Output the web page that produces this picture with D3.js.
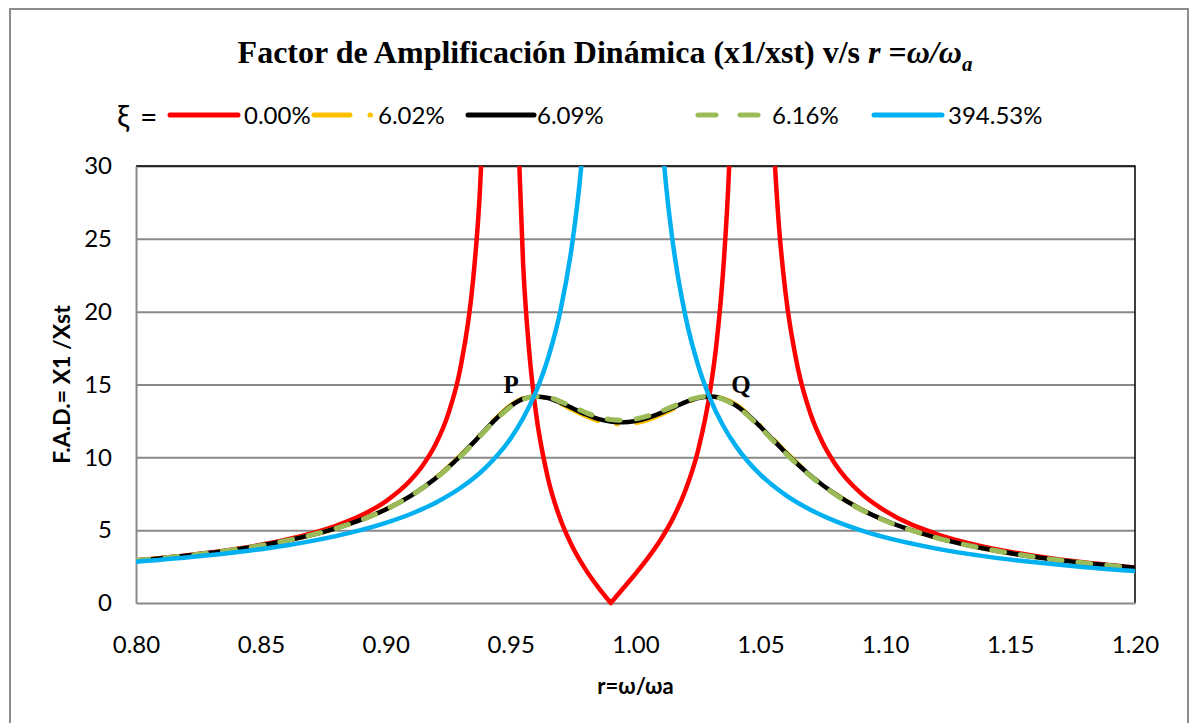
<!DOCTYPE html>
<html>
<head>
<meta charset="utf-8">
<script src="https://cdn.jsdelivr.net/npm/d3@7"></script>
<style>
  body { margin: 0; background: #fff; }
  svg { display: block; }
</style>
</head>
<body>
<svg id="chart" width="1190" height="723"></svg>
<script>
// r values shared by the three near-optimal damping curves
const rDamped = [0.80, 0.82, 0.84, 0.86, 0.88, 0.89, 0.90, 0.91, 0.92, 0.93,
  0.935, 0.94, 0.945, 0.95, 0.955, 0.96, 0.965, 0.97, 0.975, 0.98,
  0.985, 0.99, 0.995, 1.00, 1.005, 1.01, 1.015, 1.02, 1.025, 1.03,
  1.035, 1.04, 1.045, 1.05, 1.055, 1.06, 1.07, 1.08, 1.09, 1.10,
  1.12, 1.14, 1.16, 1.18, 1.20];
const fad602 = [2.92, 3.25, 3.68, 4.27, 5.12, 5.70, 6.43, 7.37, 8.59, 10.15,
  11.03, 11.96, 12.83, 13.57, 14.04, 14.18, 14.03, 13.67, 13.25, 12.84,
  12.50, 12.32, 12.26, 12.35, 12.58, 12.91, 13.32, 13.72, 14.04, 14.18,
  14.05, 13.65, 12.98, 12.16, 11.28, 10.39, 8.79, 7.49, 6.47, 5.67,
  4.51, 3.72, 3.16, 2.74, 2.42];
const fad609 = [2.92, 3.25, 3.68, 4.27, 5.12, 5.70, 6.42, 7.36, 8.57, 10.11,
  10.99, 11.91, 12.78, 13.52, 14.01, 14.18, 14.07, 13.75, 13.35, 12.96,
  12.64, 12.46, 12.40, 12.49, 12.71, 13.03, 13.41, 13.79, 14.07, 14.18,
  14.02, 13.59, 12.92, 12.10, 11.22, 10.34, 8.76, 7.47, 6.46, 5.66,
  4.50, 3.72, 3.16, 2.74, 2.42];
const fad616 = [2.92, 3.25, 3.68, 4.27, 5.12, 5.69, 6.42, 7.35, 8.55, 10.07,
  10.95, 11.86, 12.73, 13.47, 13.98, 14.18, 14.11, 13.83, 13.45, 13.08,
  12.77, 12.60, 12.54, 12.63, 12.84, 13.14, 13.50, 13.86, 14.10, 14.18,
  13.99, 13.54, 12.86, 12.04, 11.16, 10.29, 8.72, 7.45, 6.44, 5.65,
  4.50, 3.72, 3.16, 2.74, 2.42];

// undamped absorber (xi = 0): null = break at the resonances / cusp
const rUndamped = [0.80, 0.82, 0.84, 0.86, 0.88, 0.89, 0.90, 0.91, 0.915, 0.92,
  0.925, 0.93, 0.935, 0.9375, 0.94, 0.9465,
  0.9525, 0.955, 0.9575, 0.96, 0.965, 0.97, 0.975, 0.98, 0.985, 0.9901, 0.9901,
  0.9901, 0.995, 1.00, 1.005, 1.01, 1.015, 1.02, 1.025, 1.03, 1.0325, 1.035, 1.0375, 1.04, 1.046,
  1.055, 1.0575, 1.06, 1.065, 1.07, 1.075, 1.08, 1.09, 1.10, 1.12, 1.14, 1.16, 1.18, 1.20];
const fad000 = [2.93, 3.27, 3.71, 4.34, 5.30, 6.00, 6.98, 8.44, 9.49, 10.91,
  12.97, 16.23, 22.23, 27.69, 37.3, null,
  34.45, 23.27, 17.14, 13.24, 8.53, 5.71, 3.78, 2.31, 1.09, 0, null,
  0, 0.99, 2.01, 3.10, 4.33, 5.81, 7.74, 10.44, 14.68, 17.92, 22.59, 29.95, 43.4, null,
  32.44, 25.73, 21.40, 16.13, 13.03, 10.99, 9.53, 7.57, 6.32, 4.77, 3.85, 3.23, 2.78, 2.44];

// very large damping (xi = 394.53%)
const rRigid = [0.80, 0.82, 0.84, 0.86, 0.88, 0.89, 0.90, 0.91, 0.92, 0.93,
  0.94, 0.95, 0.955, 0.96, 0.965, 0.97, 0.975, 0.9775, 0.98, 0.995,
  1.01, 1.0125, 1.015, 1.02, 1.025, 1.03, 1.035, 1.04, 1.045, 1.05,
  1.06, 1.07, 1.08, 1.09, 1.10, 1.12, 1.14, 1.16, 1.18, 1.20];
const fad39453 = [2.83, 3.12, 3.48, 3.95, 4.59, 5.00, 5.50, 6.11, 6.89, 7.91,
  9.30, 11.30, 12.68, 14.45, 16.82, 20.12, 25.08, 28.62, 33.3, null,
  33.0, 28.24, 24.67, 19.68, 16.36, 13.98, 12.20, 10.82, 9.71, 8.81,
  7.42, 6.40, 5.62, 5.00, 4.50, 3.75, 3.20, 2.79, 2.46, 2.20];

const seriesLabels = ["0.00%", "6.02%", "6.09%", "6.16%", "394.53%"];
const xTicks = [0.80, 0.85, 0.90, 0.95, 1.00, 1.05, 1.10, 1.15, 1.20];
const yTicks = [0, 5, 10, 15, 20, 25, 30];
const pointLabels = ["P", "Q"];
const pointR = [0.9502, 1.0422];
const pointFad = [14.4, 14.4];

const zip = (xs, ys) => xs.map((r, i) => [r, ys[i]]);

const series = [
  { label: seriesLabels[0], data: zip(rUndamped, fad000), color: "#FF0000", width: 4.5, dash: null },
  { label: seriesLabels[1], data: zip(rDamped, fad602), color: "#FFC000", width: 4.5, dash: "40,19,1,19" },
  { label: seriesLabels[2], data: zip(rDamped, fad609), color: "#000000", width: 4.5, dash: null },
  { label: seriesLabels[3], data: zip(rDamped, fad616), color: "#9BBB59", width: 5, dash: "13,16" },
  { label: seriesLabels[4], data: zip(rRigid, fad39453), color: "#00B0F0", width: 4.5, dash: null }
];

const svg = d3.select("#chart");
const plot = { left: 136, right: 1135, top: 166, bottom: 603 };
const sans = "Lato, 'Open Sans', sans-serif";
const serif = "'Liberation Serif', 'Times New Roman', serif";

const x = d3.scaleLinear().domain([0.80, 1.20]).range([plot.left, plot.right]);
const y = d3.scaleLinear().domain([0, 30]).range([plot.bottom, plot.top]);

// outer chart border
svg.append("rect")
    .attr("x", 10).attr("y", 9)
    .attr("width", 1178).attr("height", 730)
    .attr("fill", "none")
    .attr("stroke", "#8c8c8c")
    .attr("stroke-width", 2);

// title
const title = svg.append("text")
    .attr("x", 605).attr("y", 63)
    .attr("text-anchor", "middle")
    .style("font-family", serif)
    .style("font-weight", "bold")
    .style("font-size", "32px");
title.append("tspan").text("Factor de Amplificación Dinámica (x1/xst) v/s ");
title.append("tspan").style("font-style", "italic").text("r");
title.append("tspan").text(" =");
title.append("tspan").style("font-style", "italic").text("ω/ω");
title.append("tspan").style("font-style", "italic").style("font-size", "21px")
    .attr("dy", 8).text("a");

// gridlines
svg.append("g")
    .attr("transform", `translate(${plot.left},0)`)
    .call(d3.axisLeft(y).tickValues(yTicks.slice(1)).tickSize(-(plot.right - plot.left)).tickFormat(""))
    .call(g => g.select(".domain").remove())
    .call(g => g.selectAll("line").attr("stroke", "#898989").attr("stroke-width", 2));

// plot-area border (top / right black)
svg.append("path")
    .attr("d", `M${plot.left},${plot.top}H${plot.right}V${plot.bottom}`)
    .attr("fill", "none")
    .attr("stroke", "#000")
    .attr("stroke-width", 1.5);

// axes lines + labels
svg.append("g")
    .attr("transform", `translate(${plot.left},0)`)
    .call(d3.axisLeft(y).tickValues(yTicks).tickSize(0).tickPadding(24))
    .call(g => g.select(".domain").attr("stroke", "#898989").attr("stroke-width", 2))
    .call(g => g.selectAll("text")
        .style("font-family", sans)
        .style("font-size", "24px")
        .attr("fill", "#000"));

svg.append("g")
    .attr("transform", `translate(0,${plot.bottom})`)
    .call(d3.axisBottom(x).tickValues(xTicks).tickSize(0).tickPadding(33).tickFormat(d3.format(".2f")))
    .call(g => g.select(".domain").attr("stroke", "#898989").attr("stroke-width", 2))
    .call(g => g.selectAll("text")
        .style("font-family", sans)
        .style("font-size", "24px")
        .attr("fill", "#000"));

// axis titles
svg.append("text")
    .attr("transform", `translate(70,${(plot.top + plot.bottom) / 2}) rotate(-90)`)
    .attr("text-anchor", "middle")
    .style("font-family", sans)
    .style("font-weight", "bold")
    .style("font-size", "23px")
    .text("F.A.D.= X1 /Xst");

svg.append("text")
    .attr("x", (plot.left + plot.right) / 2).attr("y", 694)
    .attr("text-anchor", "middle")
    .style("font-family", sans)
    .style("font-weight", "bold")
    .style("font-size", "22px")
    .text("r=ω/ωa");

// clip for the curves
svg.append("clipPath").attr("id", "plotClip")
  .append("rect")
    .attr("x", plot.left).attr("y", plot.top)
    .attr("width", plot.right - plot.left)
    .attr("height", plot.bottom - plot.top + 8);

const line = d3.line()
    .defined(d => d[1] != null)
    .x(d => x(d[0]))
    .y(d => y(d[1]))
    .curve(d3.curveMonotoneX);

const curves = svg.append("g").attr("clip-path", "url(#plotClip)");
series.forEach(s => {
  curves.append("path")
      .datum(s.data)
      .attr("fill", "none")
      .attr("stroke", s.color)
      .attr("stroke-width", s.width)
      .attr("stroke-linecap", "round")
      .attr("stroke-linejoin", "round")
      .attr("stroke-dasharray", s.dash)
      .attr("d", line);
});

// P / Q labels
pointLabels.forEach((t, i) => {
  svg.append("text")
      .attr("x", x(pointR[i])).attr("y", y(pointFad[i]))
      .attr("text-anchor", "middle")
      .style("font-family", serif)
      .style("font-weight", "bold")
      .style("font-size", "25px")
      .text(t);
});

// legend
const legend = svg.append("g");
legend.append("text")
    .attr("x", 117).attr("y", 127)
    .style("font-family", sans)
    .style("font-size", "31px")
    .text("ξ");
legend.append("text")
    .attr("x", 140).attr("y", 128)
    .style("font-family", sans)
    .style("font-size", "30px")
    .text("=");

const legendX = [170, 314, 468, 698, 874];
const legendDash = [null, "36,20,0.5,100", null, "18,24", null];
const legendLen = [68, 66, 66, 60, 68];
const legendTextX = [244, 378, 537, 772, 948];
series.forEach((s, i) => {
  legend.append("line")
      .attr("x1", legendX[i]).attr("x2", legendX[i] + legendLen[i])
      .attr("y1", 115).attr("y2", 115)
      .attr("stroke", s.color)
      .attr("stroke-width", 5)
      .attr("stroke-linecap", "round")
      .attr("stroke-dasharray", legendDash[i]);
  legend.append("text")
      .attr("x", legendTextX[i]).attr("y", 124)
      .style("font-family", sans)
      .style("font-size", "24px")
      .text(s.label);
});
</script>
</body>
</html>
